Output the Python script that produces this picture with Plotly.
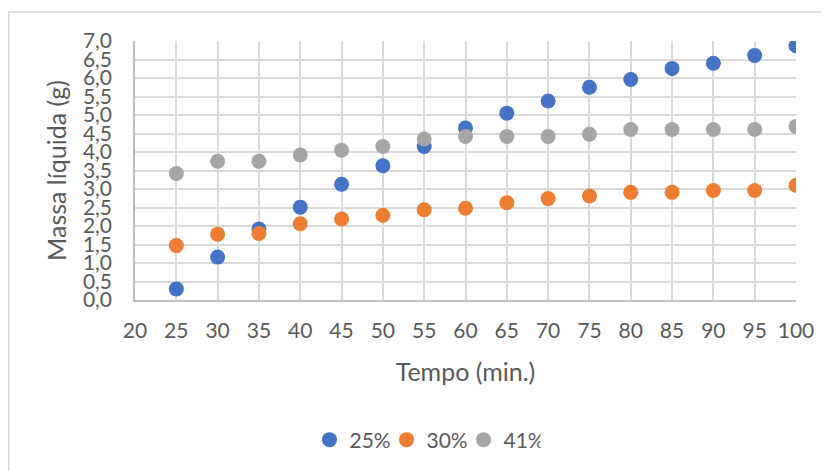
import plotly.graph_objects as go

tempo = [25, 30, 35, 40, 45, 50, 55, 60, 65, 70, 75, 80, 85, 90, 95, 100]
s25 = [0.30, 1.16, 1.92, 2.51, 3.13, 3.63, 4.15, 4.65, 5.05, 5.38, 5.75, 5.96, 6.26, 6.40, 6.61, 6.87]
s30 = [1.47, 1.78, 1.80, 2.06, 2.19, 2.29, 2.44, 2.48, 2.63, 2.74, 2.81, 2.91, 2.91, 2.96, 2.96, 3.10]
s41 = [3.42, 3.75, 3.75, 3.92, 4.05, 4.15, 4.35, 4.42, 4.42, 4.42, 4.48, 4.61, 4.61, 4.61, 4.61, 4.69]
names = ["25%", "30%", "41%"]
colors = ["#4472C4", "#ED7D31", "#A5A5A5"]

FONT = "Lato"
TXT = "#595959"

fig = go.Figure()
for name, ys, c in zip(names, [s25, s30, s41], colors):
    fig.add_trace(go.Scatter(x=tempo, y=ys, mode="markers", name=name,
                             marker=dict(size=15, color=c, line=dict(width=0))))

# page has an 8px body margin, so the figure is 8px smaller and offset
OFF = 8
W, H = 829 - OFF, 471 - OFF
L, T = 135 - OFF, 41 - OFF
R = W - (796 - OFF)
B = H - (300 - OFF)
pw = W - L - R
ph = H - T - B

fig.update_layout(
    width=W, height=H,
    margin=dict(l=L, r=R, t=T, b=B, autoexpand=False),
    paper_bgcolor="white", plot_bgcolor="white",
    separators=", ",
    font=dict(family=FONT, size=21, color=TXT),
    showlegend=True,
    legend=dict(orientation="h", x=(425 - 135) / pw, xanchor="center",
                y=(300 - 440) / ph, yanchor="middle",
                font=dict(size=21, color=TXT), itemwidth=30, entrywidth=32,
                tracegroupgap=0, bgcolor="rgba(0,0,0,0)"),
    xaxis=dict(range=[20, 100], dtick=5, tick0=20, showgrid=True, automargin=False,
               gridcolor="#D9D9D9", gridwidth=1.5, zeroline=False,
               showline=True, linecolor="#BFBFBF", linewidth=1.5,
               ticks="outside", ticklen=11, tickcolor="rgba(0,0,0,0)",
               tickfont=dict(size=21, color=TXT),
               title=dict(text="Tempo (min.)", font=dict(size=25, color=TXT), standoff=23)),
    yaxis=dict(range=[0, 7], dtick=0.5, tick0=0, tickformat=".1f", showgrid=True, automargin=False,
               gridcolor="#D9D9D9", gridwidth=1.5, zeroline=False,
               showline=True, linecolor="#BFBFBF", linewidth=1.5,
               ticks="outside", ticklen=17, tickcolor="rgba(0,0,0,0)",
               tickfont=dict(size=21, color=TXT),
               title=dict(text="Massa líquida (g)", font=dict(size=25, color=TXT), standoff=9)),
)

# outer chart-area border (only left and top edges visible in the frame)
fig.add_shape(type="rect", xref="paper", yref="paper",
              x0=(0.75 - L) / pw, x1=(W + 30 - L) / pw,
              y0=(T + ph - (H + 30)) / ph, y1=(T + ph - 4) / ph,
              line=dict(color="#D9D9D9", width=1.5), fillcolor="rgba(0,0,0,0)",
              layer="below")

fig.write_html("out.html")
